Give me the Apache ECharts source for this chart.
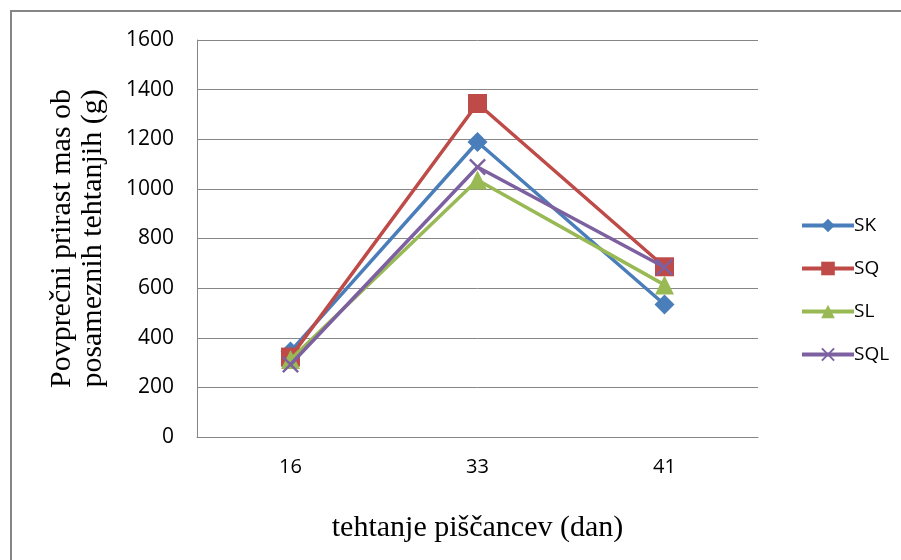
<!DOCTYPE html>
<html><head><meta charset="utf-8">
<script src="https://cdn.jsdelivr.net/npm/echarts@6/dist/echarts.min.js"></script>
<style>html,body{margin:0;padding:0;background:#fff}#c{width:901px;height:560px}</style>
</head><body><div id="c"></div>
<script>
const categories = ['16', '33', '41'];
const seriesNames = ['SK', 'SQ', 'SL', 'SQL'];
const SK = [345, 1189, 534];
const SQ = [322, 1344, 686];
const SL = [312, 1036, 613];
const SQL = [292, 1088, 684];
const yTicks = [0, 200, 400, 600, 800, 1000, 1200, 1400, 1600];

const colors = ['#4A7EBB', '#BE4B48', '#98B954', '#7D60A0'];
const symbols = ['diamond', 'rect', 'triangle',
  'path://M0,1L1,0L5,4L9,0L10,1L6,5L10,9L9,10L5,6L1,10L0,9L4,5Z'];
const sizes = [20, 19, 19, 17];
const data = [SK, SQ, SL, SQL];

const chart = echarts.init(document.getElementById('c'), null, {renderer: 'canvas'});
chart.setOption({
  animation: false,
  backgroundColor: '#fff',
  graphic: [{
    type: 'rect', shape: {x: 11, y: 11, width: 900, height: 560},
    style: {fill: 'none', stroke: '#868686', lineWidth: 2}, silent: true
  }],
  grid: {left: 197, right: 143, top: 40, bottom: 123},
  legend: {
    orient: 'vertical', left: 795, top: 211, itemGap: 24,
    itemWidth: 52, itemHeight: 17,
    lineStyle: {width: 4},
    textStyle: {fontFamily: 'Open Sans', fontSize: 19, color: '#000', padding: [0, 0, 0, -5]},
    data: seriesNames
  },
  xAxis: {
    type: 'category', data: categories, boundaryGap: true,
    name: 'tehtanje piščancev (dan)', nameLocation: 'middle', nameGap: 76,
    nameTextStyle: {fontFamily: 'Liberation Serif', fontSize: 30, color: '#000'},
    axisLine: {lineStyle: {color: '#868686', width: 1}},
    axisTick: {show: false},
    axisLabel: {fontFamily: 'Open Sans', fontSize: 20, color: '#000', margin: 20}
  },
  yAxis: {
    type: 'value', min: yTicks[0], max: yTicks[yTicks.length - 1], interval: 200,
    name: 'Povprečni prirast mas ob\nposameznih tehtanjih (g)', nameLocation: 'middle', nameGap: 88,
    nameTextStyle: {fontFamily: 'Liberation Serif', fontSize: 30, color: '#000', lineHeight: 31},
    axisLine: {show: true, lineStyle: {color: '#868686', width: 1}},
    axisTick: {show: false},
    splitLine: {lineStyle: {color: '#868686', width: 1}},
    axisLabel: {fontFamily: 'Open Sans', fontSize: 21, color: '#000', margin: 23,
      formatter: v => String(v)}
  },
  series: seriesNames.map((n, i) => ({
    name: n, type: 'line', data: data[i],
    symbol: symbols[i], symbolSize: sizes[i],
    lineStyle: {color: colors[i], width: 3.5},
    itemStyle: {color: colors[i]},
    z: 2 + i
  }))
});
</script></body></html>
